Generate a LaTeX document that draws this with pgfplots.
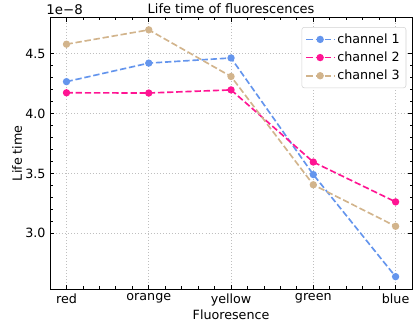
\documentclass[border=0pt]{standalone}
\usepackage{pgfplots}
\pgfplotsset{compat=1.18}
\usepackage{fontspec}
\setmainfont{DejaVu Sans}
\definecolor{c1}{HTML}{6495ED}
\definecolor{c2}{HTML}{FF1493}
\definecolor{c3}{HTML}{D2B48C}
\begin{document}
\begin{tikzpicture}
\begin{axis}[
  name=ax,
  scale only axis,
  width=285pt, height=213.7pt,
  xmin=-0.2, xmax=4.2,
  ymin=2.534, ymax=4.803,
  xtick={0,1,2,3,4},
  xticklabels={red,orange,yellow,green,blue},
  ytick={3.0,3.5,4.0,4.5},
  minor x tick num=4,
  minor y tick num=4,
  tick align=inside,
  tick pos=both,
  major tick length=3.5pt,
  minor tick length=2pt,
  tick style={black, line width=0.6pt},
  /pgf/number format/assume math mode=true,
  yticklabel={\pgfmathprintnumber[fixed,fixed zerofill,precision=1]{\tick}},
  ticklabel style={font=\fontsize{10}{12}\selectfont},
  grid=major,
  grid style={dotted, gray!50, line width=0.45pt},
  axis line style={black, line width=0.6pt},
  xlabel={Fluoresence},
  ylabel={Life time},
  label style={font=\fontsize{10}{12}\selectfont},
  xlabel style={at={(axis description cs:0.5,-0.096)}, anchor=center},
  ylabel style={at={(axis description cs:-0.091,0.5)}, anchor=center},
  legend style={at={(rel axis cs:0.984,0.965)}, anchor=north east, draw=gray!35, rounded corners=2pt, fill=white, font=\fontsize{10}{12}\selectfont, inner sep=3pt, row sep=1.2pt},
  legend cell align=left,
  legend image code/.code={\draw[mark repeat=2,mark phase=2] plot coordinates {(0cm,0cm)(0.38cm,0cm)(0.76cm,0cm)};},
  every axis plot/.append style={line width=1.3pt, dash pattern=on 5pt off 2.2pt, mark=*, mark size=2.2pt, mark options={solid}},
]
\addplot[color=c1] coordinates {(0,4.267) (1,4.422) (2,4.465) (3,3.49) (4,2.637)};
\addlegendentry{channel 1}
\addplot[color=c2] coordinates {(0,4.174) (1,4.172) (2,4.198) (3,3.595) (4,3.262)};
\addlegendentry{channel 2}
\addplot[color=c3] coordinates {(0,4.58) (1,4.70) (2,4.31) (3,3.405) (4,3.058)};
\addlegendentry{channel 3}
\end{axis}
\node[anchor=base, inner sep=0pt, font=\fontsize{10.2}{12}\selectfont] at ([yshift=3.5pt]ax.north) {Life time of fluorescences};
\node[anchor=base west, inner sep=0pt, font=\fontsize{10.5}{12}\selectfont] at ([shift={(-3pt,2.2pt)}]ax.north west) {1e−8};
\pgfresetboundingbox
\path ([shift={(-39.4pt,-27.5pt)}]ax.south west) rectangle ([shift={(3.9pt,13.8pt)}]ax.north east);
\end{tikzpicture}
\end{document}
